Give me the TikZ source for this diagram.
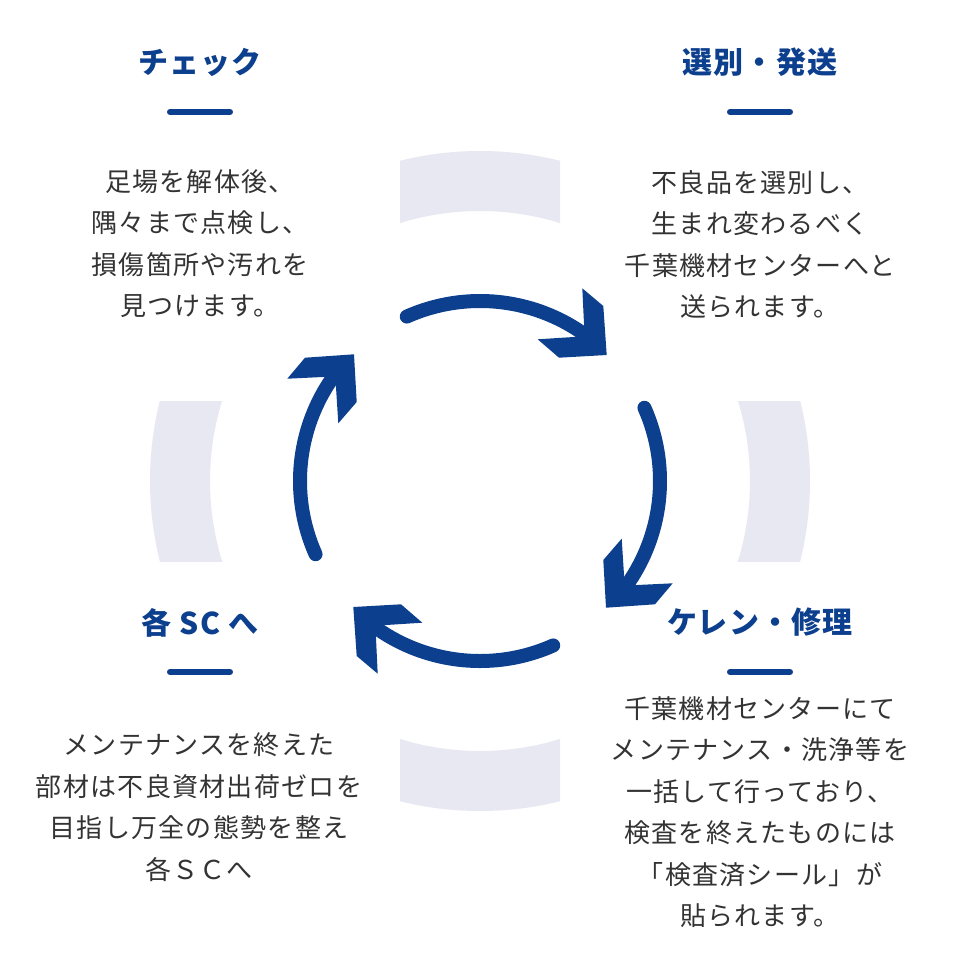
\documentclass[tikz,border=0pt]{standalone}
\usepackage{fontspec}
\newfontfamily\jpbody[LetterSpace=5]{Noto Sans CJK JP}
\newfontfamily\jphead[LetterSpace=4]{Noto Sans CJK JP}
\definecolor{cblue}{RGB}{12,63,141}
\definecolor{cgray}{RGB}{232,232,243}
\definecolor{ctext}{RGB}{51,51,51}
\tikzset{
  body/.style={font=\jpbody\fontsize{26}{41.5}\selectfont, text=ctext, align=center, inner sep=0pt},
  head/.style={font=\jphead\bfseries\fontsize{30}{36}\selectfont, text=cblue, inner sep=0pt},
  headbar/.style={draw=cblue, line width=6pt, line cap=round},
  ringpart/.style={fill=cgray, even odd rule},
  cyclearc/.style={draw=cblue, line width=14pt, line cap=round},
  cyclehead/.style={fill=cblue},
}
\begin{document}
\begin{tikzpicture}[x=1pt,y=-1pt]
\useasboundingbox (0,0) rectangle (960,962);
\fill[white] (0,0) rectangle (960,962);
\coordinate (O) at (480,481);
% gray ring segments
\foreach \cx/\cy/\dx/\dy in {400/140/560/235, 400/727/560/822, 140/401/235/561, 725/401/820/561}{
  \begin{scope}
    \clip (\cx,\cy) rectangle (\dx,\dy);
    \path[ringpart] (O) circle[radius=330] (O) circle[radius=270];
  \end{scope}
}
% four curved arrows
\foreach \r in {0,-90,-180,-270}{
  \begin{scope}[rotate around={\r:(480,481)}]
    \draw[cyclearc] (O) ++(-114:180) arc[start angle=-114, end angle=-52, radius=180];
    \path[cyclehead] (582.3,288.3) -- (603.3,306) -- (606.7,355) -- (559,357.7)
      -- (537.7,339.3) -- (584.6,336.3) -- cycle;
  \end{scope}
}
% headings
\node[head] (h1) at (200,62.5) {チェック};
\node[head] (h2) at (760,62.5) {選別・発送};
\node[head] (h3) at (200,622.5) {各 SC へ};
\node[head] (h4) at (760,622.5) {ケレン・修理};
% bars
\coordinate (b1a) at (170,112); \coordinate (b1b) at (230,112);
\coordinate (b2a) at (730,112); \coordinate (b2b) at (790,112);
\coordinate (b3a) at (170,672); \coordinate (b3b) at (230,672);
\coordinate (b4a) at (730,672); \coordinate (b4b) at (790,672);
\draw[headbar] (b1a) -- (b1b);
\draw[headbar] (b2a) -- (b2b);
\draw[headbar] (b3a) -- (b3b);
\draw[headbar] (b4a) -- (b4b);
% body texts
\node[body] (t1) at (200,243.7) {足場を解体後、\\隅々まで点検し、\\損傷箇所や汚れを\\見つけます。};
\node[body] (t2) at (760,244.6) {不良品を選別し、\\生まれ変わるべく\\千葉機材センターへと\\送られます。};
\node[body] (t3) at (199,807) {メンテナンスを終えた\\部材は不良資材出荷ゼロを\\目指し万全の態勢を整え\\各ＳＣへ};
\node[body] (t4) at (760,812) {千葉機材センターにて\\メンテナンス・洗浄等を\\一括して行っており、\\検査を終えたものには\\「検査済シール」が\\貼られます。};
\end{tikzpicture}
\end{document}
